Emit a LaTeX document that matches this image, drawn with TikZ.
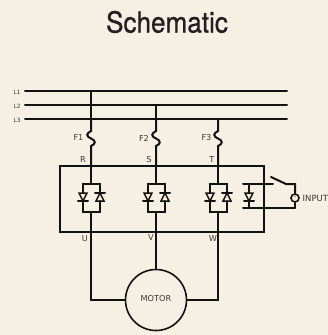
\documentclass[tikz,border=0pt]{standalone}
\usepackage{fontspec}
\setmainfont{DejaVu Sans}
\newfontfamily\titlefont[FakeStretch=0.9,FakeBold=0.8]{TeX Gyre Heros}
\definecolor{paper}{HTML}{F6EFE3}
\definecolor{ink}{HTML}{141210}
\definecolor{labelink}{HTML}{3A3835}
\definecolor{titleink}{HTML}{231F20}
\tikzset{
  wire/.style={line width=2pt,draw=ink,line cap=round},
  thinwire/.style={line width=1.5pt,draw=ink,line cap=round},
  lab/.style={font=\fontsize{8.2}{9}\selectfont,text=labelink,inner sep=0pt},
  smalllab/.style={font=\fontsize{5.8}{6}\selectfont,text=labelink,inner sep=0pt},
  round/.style={circle,draw=ink,line width=1.6pt,inner sep=0pt,fill=paper}
}
\newcommand{\diodedown}[2]{% x, y of top of triangle
  \draw[thinwire] (#1-4,#2) -- (#1+4,#2) -- (#1,#2+8) -- cycle;
  \draw[wire] (#1-5,#2+8) -- (#1+5,#2+8);
}
\newcommand{\diodeup}[2]{% x, y of bottom of triangle
  \draw[thinwire] (#1-4,#2) -- (#1+4,#2) -- (#1,#2-8) -- cycle;
  \draw[wire] (#1-5,#2-8) -- (#1+5,#2-8);
}
\newcommand{\thyr}[1]{%
  \draw[wire] (#1,166) -- (#1,184);
  \draw[wire] (#1-8,193) -- (#1-8,184) -- (#1+9,184) -- (#1+9,193);
  \draw[wire] (#1-8,201) -- (#1-8,212) -- (#1+9,212) -- (#1+9,201);
  \diodedown{#1-8}{193}
  \diodeup{#1+9}{201}
}
\newcommand{\fusewire}[1]{%
  \draw[wire] (#1,119) -- (#1,131) .. controls (#1-5,133.5) and (#1-5,136.5) .. (#1,138.5)
    .. controls (#1+5,140.5) and (#1+5,144) .. (#1,146) -- (#1,166);
}
\begin{document}
\begin{tikzpicture}[x=1pt,y=-1pt]
\useasboundingbox (0,0) rectangle (328,335);
\fill[paper] (0,0) rectangle (328,335);
\node[inner sep=0pt,text=titleink] (title) at (167,22) {\titlefont\fontsize{29}{30}\selectfont Schematic};
% bus
\coordinate (l1a) at (25,91); \coordinate (l1b) at (287,91);
\coordinate (l2a) at (25,105); \coordinate (l2b) at (287,105);
\coordinate (l3a) at (25,119); \coordinate (l3b) at (287,119);
\draw[wire] (l1a) -- (l1b);
\draw[wire] (l2a) -- (l2b);
\draw[wire] (l3a) -- (l3b);
\node[smalllab] (nl1) at (17,92) {L1};
\node[smalllab] (nl2) at (17,106) {L2};
\node[smalllab] (nl3) at (17,120) {L3};
% risers
\draw[wire] (91,91) -- (91,131);
\draw[wire] (156,105) -- (156,131);
\fusewire{91}
\fusewire{156}
\fusewire{218}
\node[lab] (f1) at (78.5,137.5) {F1};
\node[lab] (f2) at (144,138) {F2};
\node[lab] (f3) at (206.5,137.5) {F3};
\node[lab] (r) at (83,159.5) {R};
\node[lab] (s) at (149,159.5) {S};
\node[lab] (t) at (212,159.5) {T};
% box
\draw[wire,line join=miter] (60,166) rectangle (264,232);
\thyr{91}
\thyr{156}
\thyr{218}
% input diode
\draw[wire] (243,184) -- (273,184);
\draw[wire] (243,208) -- (295,208);
\draw[wire] (249,184) -- (249,193);
\draw[wire] (249,201) -- (249,208);
\diodedown{249}{193}
% switch
\draw[wire] (271,177) -- (286,184) -- (295,184) -- (295,193);
\draw[wire] (295,203) -- (295,208);
\node[round,minimum size=8pt] (ac) at (295,198) {};
\node[font=\fontsize{4}{4}\selectfont,inner sep=0pt,text=ink] (tilde) at (295,198) {\char"007E};
\node[lab,anchor=west,font=\fontsize{8.5}{9}\selectfont] (input) at (302.5,198) {INPUT};
% outputs
\node[round,minimum size=61pt] (motor) at (156,300) {};
\node[lab] (mtext) at (156,298.5) {MOTOR};
\draw[wire] (91,212) -- (91,300) -- (motor.west);
\draw[wire] (156,212) -- (motor.north);
\draw[wire] (218,212) -- (218,300) -- (motor.east);
\node[lab] (u) at (85,238.5) {U};
\node[lab] (v) at (151,238) {V};
\node[lab] (w) at (213,238.5) {W};
\end{tikzpicture}
\end{document}
